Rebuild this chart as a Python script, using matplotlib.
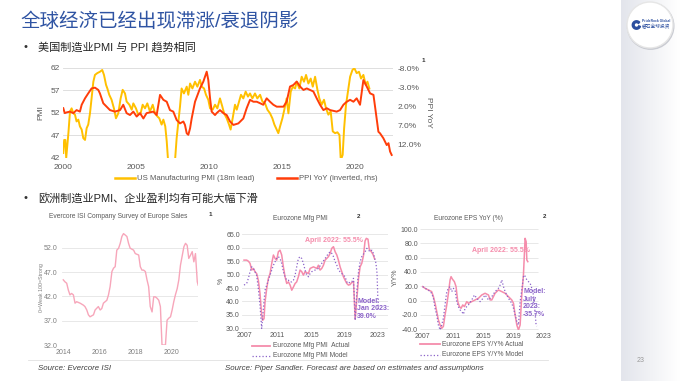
import matplotlib
matplotlib.use('Agg')
from matplotlib import pyplot as plt
from matplotlib.lines import Line2D
from matplotlib.patches import Circle, Wedge
import numpy as np

plt.rcParams['font.family'] = ['Liberation Sans', 'Noto Sans CJK SC', 'DejaVu Sans']

# ---------------- data ----------------
# US manufacturing PMI, 18m lead
pmi_years = [2000.0, 2000.06, 2000.14, 2000.2, 2000.28, 2000.35, 2000.46, 2000.57, 2000.69, 2000.8,
             2000.91, 2001.03, 2001.14, 2001.26, 2001.37, 2001.49, 2001.6, 2001.71, 2001.83, 2001.94,
             2002.06, 2002.17, 2002.33, 2002.51, 2002.67, 2002.79, 2002.93, 2003.02, 2003.15, 2003.31,
             2003.47, 2003.61, 2003.77, 2003.93, 2004.07, 2004.23, 2004.34, 2004.53, 2004.69, 2004.8,
             2004.98, 2005.14, 2005.3, 2005.44, 2005.6, 2005.76, 2005.94, 2006.13, 2006.29, 2006.45,
             2006.58, 2006.74, 2006.86, 2006.99, 2007.09, 2007.18, 2007.66, 2007.77, 2007.89, 2008.0,
             2008.11, 2008.27, 2008.46, 2008.57, 2008.69, 2008.85, 2009.03, 2009.19, 2009.37, 2009.49,
             2009.65, 2009.78, 2009.94, 2010.06, 2010.24, 2010.4, 2010.56, 2010.74, 2010.9, 2011.02,
             2011.2, 2011.36, 2011.47, 2011.61, 2011.77, 2011.89, 2012.05, 2012.18, 2012.34, 2012.5,
             2012.66, 2012.8, 2012.96, 2013.14, 2013.3, 2013.49, 2013.65, 2013.83, 2013.99, 2014.17,
             2014.33, 2014.47, 2014.63, 2014.74, 2014.86, 2015.02, 2015.15, 2015.31, 2015.43, 2015.59,
             2015.73, 2015.89, 2016.0, 2016.18, 2016.34, 2016.5, 2016.64, 2016.8, 2016.96, 2017.1,
             2017.26, 2017.42, 2017.55, 2017.71, 2017.87, 2018.01, 2018.17, 2018.33, 2018.47, 2018.63,
             2018.79, 2018.93, 2019.02, 2019.15, 2019.25, 2019.38, 2019.54, 2019.66, 2019.82, 2019.95,
             2020.11, 2020.27, 2020.41, 2020.57, 2020.73, 2020.85, 2020.98]
pmi_values = [43.1, 46.0, 46.0, 42.0, 45.0, 47.5, 52.3, 53.0, 51.9, 51.6,
              50.1, 50.5, 49.0, 48.3, 46.4, 46.0, 48.6, 49.4, 51.9, 55.2,
              58.9, 60.4, 60.8, 61.1, 61.5, 60.4, 58.2, 57.4, 56.0, 54.9,
              53.0, 50.8, 51.9, 55.2, 57.1, 56.3, 54.5, 53.8, 52.7, 54.1,
              53.0, 51.6, 51.9, 53.8, 53.0, 54.1, 52.3, 53.8, 51.9, 51.2,
              50.8, 49.4, 50.5, 49.0, 45.7, 41.5, 41.5, 46.4, 50.1, 53.4,
              57.4, 56.3, 57.8, 56.0, 58.5, 57.4, 58.9, 57.8, 59.3, 57.8,
              57.4, 56.0, 54.9, 53.0, 52.7, 53.8, 53.0, 55.2, 53.4, 51.9,
              50.8, 49.4, 48.3, 50.8, 53.8, 52.7, 54.5, 56.0, 55.2, 56.7,
              55.6, 56.3, 55.2, 56.3, 55.2, 56.0, 54.5, 54.1, 52.7, 51.9,
              50.8, 49.4, 48.3, 47.5, 49.0, 50.8, 52.7, 55.2, 51.9, 56.7,
              57.8, 57.4, 58.9, 57.4, 60.0, 58.9, 60.4, 58.5, 59.6, 57.8,
              60.0, 57.1, 55.2, 53.8, 54.9, 53.0, 51.6, 52.3, 47.9, 47.5,
              47.7, 47.1, 41.5, 42.7, 48.6, 53.8, 57.4, 60.0, 61.5, 61.9,
              60.8, 61.1, 59.6, 60.4, 58.2, 58.9, 57.4]

# PPI YoY (%), plotted on an inverted right axis
ppi_years = [2000.0, 2000.1, 2000.23, 2000.46, 2000.69, 2000.91, 2001.14, 2001.26, 2001.49, 2001.71,
             2001.94, 2002.17, 2002.4, 2002.51, 2002.74, 2002.97, 2003.2, 2003.54, 2003.89, 2004.11,
             2004.34, 2004.57, 2004.8, 2005.03, 2005.26, 2005.49, 2005.71, 2006.17, 2006.4, 2006.63,
             2006.86, 2007.09, 2007.31, 2007.54, 2007.77, 2008.0, 2008.23, 2008.34, 2008.46, 2008.57,
             2008.69, 2008.8, 2009.03, 2009.37, 2009.6, 2009.83, 2009.94, 2010.06, 2010.17, 2010.4,
             2010.51, 2010.74, 2010.97, 2011.2, 2011.43, 2011.66, 2012.0, 2012.34, 2012.57, 2012.8,
             2013.03, 2013.26, 2013.49, 2013.71, 2013.94, 2014.17, 2014.4, 2014.63, 2015.09, 2015.31,
             2015.54, 2015.77, 2016.0, 2016.23, 2016.46, 2016.69, 2016.91, 2017.14, 2017.37, 2017.6,
             2017.83, 2018.06, 2018.29, 2018.74, 2018.97, 2019.2, 2019.43, 2019.66, 2019.89, 2020.11,
             2020.34, 2020.57, 2020.8, 2021.03, 2021.26, 2021.37, 2021.6, 2021.71, 2021.94, 2022.17,
             2022.29, 2022.4, 2022.51]
ppi_values = [2.5, 3.8, 3.6, 3.4, 3.8, 3.0, 3.4, 1.6, -0.1, -1.4,
              -2.7, -2.9, -2.3, -1.4, 1.2, 2.1, 3.0, 3.4, 3.0, 1.6,
              3.8, 4.3, 3.4, 4.7, 3.8, 5.2, 3.8, 3.4, 4.3, -1.0,
              0.3, 0.8, 3.0, 3.4, 5.6, 6.5, 6.0, 6.9, 9.1, 9.5,
              7.8, 5.2, 0.8, -2.7, -4.5, -7.1, -4.9, -0.1, 3.4, 4.3,
              3.8, 3.0, 3.8, 4.3, 6.0, 6.9, 6.5, 5.2, 2.5, 0.3,
              0.8, 0.8, 1.2, 1.6, -0.1, 0.8, 1.6, 2.1, 2.1, 0.8,
              -3.2, -3.6, -4.5, -3.2, -2.3, -2.7, -2.3, -1.9, -0.1, 1.6,
              3.0, 2.5, 3.0, 3.4, 3.0, 1.6, 0.8, 0.3, 0.8, -0.1,
              1.6, -4.9, -3.2, -1.4, -1.0, 2.1, 8.7, 9.1, 10.4, 12.2,
              11.7, 13.9, 14.8]

pmi_ticks = [42, 47, 52, 57, 62]
ppi_ticks = [-8, -3, 2, 7, 12]
top_xticks = [2000, 2005, 2010, 2015, 2020]

# Evercore ISI company survey of Europe sales
ev_years = [2014.0, 2014.09, 2014.19, 2014.28, 2014.37, 2014.46, 2014.56, 2014.65, 2014.74, 2014.93,
            2015.11, 2015.2, 2015.3, 2015.39, 2015.48, 2015.67, 2015.76, 2015.94, 2016.04, 2016.13,
            2016.22, 2016.41, 2016.5, 2016.59, 2016.69, 2016.78, 2016.87, 2016.96, 2017.06, 2017.15,
            2017.24, 2017.33, 2017.43, 2017.52, 2017.61, 2017.7, 2017.89, 2017.98, 2018.17, 2018.26,
            2018.35, 2018.44, 2018.54, 2018.63, 2018.72, 2018.81, 2018.91, 2019.0, 2019.09, 2019.19,
            2019.28, 2019.37, 2019.46, 2019.56, 2019.65, 2019.74, 2019.83, 2019.93, 2020.02, 2020.11,
            2020.2, 2020.3, 2020.39, 2020.48, 2020.57, 2020.67, 2020.76, 2020.85, 2020.94, 2021.04,
            2021.13, 2021.22, 2021.31, 2021.41, 2021.46]
ev_values = [45.4, 45.0, 44.7, 43.3, 42.3, 42.6, 42.3, 40.6, 40.9, 40.6,
             40.2, 39.9, 39.2, 38.2, 37.8, 38.2, 39.2, 39.9, 39.2, 39.5,
             40.6, 41.2, 42.3, 44.0, 47.1, 47.8, 48.1, 51.5, 51.9, 52.9,
             54.3, 54.9, 54.6, 54.3, 52.9, 51.9, 51.5, 50.8, 50.5, 48.1,
             47.4, 47.4, 47.1, 45.4, 44.0, 39.9, 38.8, 41.9, 41.9, 41.6,
             41.2, 39.9, 32.0, 32.0, 32.0, 37.1, 37.5, 37.8, 39.2, 40.9,
             42.3, 43.6, 45.4, 48.4, 50.2, 52.2, 52.9, 52.5, 49.8, 50.5,
             51.2, 49.1, 50.8, 45.0, 44.3]
ev_ticks = [32, 37, 42, 47, 52]
ev_xticks = [2014, 2016, 2018, 2020]

# Eurozone manufacturing PMI: actual and model
ezpmi_years = [2007.0, 2007.32, 2007.52, 2007.72, 2007.92, 2008.12, 2008.31, 2008.51, 2008.71, 2008.91,
               2009.11, 2009.23, 2009.39, 2009.51, 2009.71, 2009.91, 2010.11, 2010.31, 2010.51, 2010.71,
               2010.9, 2011.1, 2011.3, 2011.5, 2011.7, 2011.9, 2012.1, 2012.3, 2012.5, 2012.7,
               2012.9, 2013.1, 2013.29, 2013.49, 2013.69, 2013.89, 2014.09, 2014.29, 2014.69, 2014.89,
               2015.29, 2015.69, 2015.88, 2016.08, 2016.28, 2016.48, 2016.68, 2017.08, 2017.28, 2017.48,
               2017.68, 2017.88, 2018.08, 2018.27, 2018.47, 2018.67, 2018.87, 2019.07, 2019.27, 2019.47,
               2019.67, 2019.87, 2020.07, 2020.27, 2020.47, 2020.67, 2020.86, 2021.06, 2021.26, 2021.45,
               2021.6, 2021.8, 2021.95, 2022.2, 2022.4, 2022.6]
ezpmi_actual = [55.4, 55.4, 55.0, 54.2, 51.7, 52.3, 51.1, 50.4, 47.9, 43.0,
                34.9, 33.0, 33.6, 39.8, 44.8, 48.6, 50.4, 54.2, 57.3, 56.0,
                55.4, 58.5, 59.1, 57.3, 52.9, 49.2, 46.7, 47.3, 46.1, 44.2,
                45.4, 46.7, 47.3, 49.2, 51.7, 51.1, 49.8, 51.1, 50.4, 52.3,
                52.9, 52.3, 53.5, 51.7, 52.3, 53.5, 55.4, 56.7, 57.9, 59.8,
                60.4, 58.5, 57.3, 55.4, 52.9, 51.1, 49.2, 47.9, 46.7, 46.1,
                46.3, 47.1, 47.5, 33.4, 41.0, 48.6, 52.9, 54.2, 57.0, 62.5,
                63.5, 63.2, 59.5, 58.5, 57.5, 55.8]
ezmodel_years = [2007.0, 2007.32, 2007.52, 2007.72, 2007.92, 2008.12, 2008.31, 2008.51, 2008.71, 2008.91,
                 2009.11, 2009.31, 2009.51, 2009.71, 2009.91, 2010.11, 2010.31, 2010.51, 2010.71, 2010.9,
                 2011.1, 2011.3, 2011.5, 2011.7, 2011.9, 2012.1, 2012.3, 2012.5, 2012.7, 2012.9,
                 2013.1, 2013.29, 2013.49, 2013.69, 2013.89, 2014.09, 2014.29, 2014.49, 2014.69, 2014.89,
                 2015.09, 2015.49, 2015.88, 2016.28, 2016.68, 2017.08, 2017.28, 2017.48, 2017.68, 2017.88,
                 2018.08, 2018.27, 2018.67, 2019.07, 2019.27, 2019.47, 2019.67, 2019.87, 2020.07, 2020.27,
                 2020.47, 2020.67, 2020.86, 2021.06, 2021.46, 2021.66, 2021.86, 2022.06, 2022.26, 2022.45,
                 2022.65, 2022.75, 2022.88, 2023.02]
ezmodel_values = [46.1, 46.7, 48.6, 51.1, 52.9, 52.3, 51.1, 49.8, 44.8, 38.6,
                  29.9, 37.4, 44.2, 46.1, 47.9, 49.8, 51.7, 53.5, 54.8, 56.0,
                  56.7, 56.0, 54.2, 51.1, 49.2, 47.9, 47.9, 47.3, 47.3, 47.9,
                  49.8, 52.9, 56.0, 56.7, 56.0, 54.2, 51.7, 49.8, 49.2, 50.4,
                  51.1, 51.7, 52.3, 54.2, 56.0, 57.9, 58.5, 57.9, 56.7, 54.8,
                  53.5, 51.7, 50.4, 49.2, 47.3, 46.7, 47.3, 47.3, 48.6, 33.0,
                  43.6, 51.1, 54.8, 56.7, 58.5, 59.8, 59.1, 58.5, 59.1, 57.9,
                  55.4, 54.3, 50.5, 37.0]
ezpmi_ticks = [30, 35, 40, 45, 50, 55, 60, 65]
bottom_xticks = [2007, 2011, 2015, 2019, 2023]

# Eurozone EPS YoY (%): actual and model
eps_years = [2007.0, 2007.31, 2007.75, 2008.19, 2008.42, 2008.64, 2008.86, 2009.08, 2009.3, 2009.52,
             2009.74, 2009.96, 2010.19, 2010.41, 2010.63, 2010.76, 2010.94, 2011.2, 2011.42, 2011.65,
             2011.87, 2012.09, 2012.31, 2012.53, 2012.84, 2013.06, 2013.5, 2013.95, 2014.39, 2014.83,
             2015.27, 2015.72, 2015.94, 2016.16, 2016.6, 2017.04, 2017.49, 2017.93, 2018.37, 2018.81,
             2019.04, 2019.26, 2019.48, 2019.7, 2019.92, 2020.14, 2020.36, 2020.5, 2020.58, 2020.72,
             2020.81, 2020.94]
eps_actual = [19.6, 17.2, 14.9, 12.6, 5.6, -3.7, -15.3, -27.0, -34.0, -38.6,
              -36.0, -20.0, -6.0, 10.3, 29.0, 33.5, 30.0, 26.5, 19.6, -1.4,
              -8.3, -10.7, -6.0, -8.3, -1.4, -3.7, -1.4, 1.0, 3.3, 7.9,
              10.3, 7.9, 1.0, 1.0, 10.3, 14.9, 12.6, 10.3, 5.6, 1.0,
              -3.7, -20.0, -34.0, -40.9, -34.0, 7.9, 35.8, 68.4, 87.0, 82.3,
              56.8, 54.4]
epsm_years = [2007.0, 2007.31, 2007.75, 2008.19, 2008.42, 2008.64, 2008.86, 2009.08, 2009.3, 2009.52,
              2009.74, 2009.96, 2010.19, 2010.41, 2010.63, 2010.85, 2011.07, 2011.29, 2011.51, 2011.73,
              2011.96, 2012.18, 2012.4, 2012.62, 2013.06, 2013.5, 2013.86, 2014.17, 2014.61, 2014.83,
              2015.27, 2015.72, 2016.16, 2016.6, 2017.04, 2017.27, 2017.49, 2017.71, 2017.93, 2018.37,
              2018.81, 2019.04, 2019.26, 2019.48, 2019.7, 2019.92, 2020.14, 2020.36, 2020.5, 2020.81,
              2021.25, 2021.47, 2021.69, 2021.82, 2022.04, 2022.13]
eps_model = [19.6, 17.2, 14.9, 10.3, 3.3, -10.7, -20.0, -34.0, -40.9, -34.0,
             -24.6, -6.0, 12.6, 17.2, 19.6, 12.6, 17.2, 14.9, -1.4, -8.3,
             -13.0, -15.3, -19.0, -10.7, -6.0, 1.0, 7.9, 3.3, -1.4, 1.0,
             7.9, 1.0, 5.6, 12.6, 17.2, 21.8, 28.9, 19.6, 12.6, 3.3,
             -3.7, -10.7, -20.0, -29.3, -34.0, -1.4, 14.9, 33.5, 35.8, 28.9,
             24.2, 17.2, 7.9, -6.0, -34.0, -35.7]
eps_ticks = [-40, -20, 0, 20, 40, 60, 80, 100]

# ---------------- layout helpers (pixel positions on the 680x381 slide) ----------------
W, H = 680, 381


def box(x0, y0, x1, y1):
    return [x0 / W, 1 - y1 / H, (x1 - x0) / W, (y1 - y0) / H]


def ftext(x, y, s, **kw):
    fig.text(x / W, 1 - y / H, s, **kw)


def fline(x0, x1, y, **kw):
    fig.add_artist(Line2D([x0 / W, x1 / W], [1 - y / H, 1 - y / H],
                          transform=fig.transFigure, **kw))


def style(ax, size, pad_x, pad_y, color='#595959'):
    for s in ax.spines.values():
        s.set_visible(False)
    ax.tick_params(length=0, labelsize=size, colors=color)
    ax.tick_params(axis='x', pad=pad_x)
    ax.tick_params(axis='y', pad=pad_y)


GRID = '#D9D9D9'
YELLOW = '#FFC000'
RED = '#FF3D0A'
PINK = '#F58CAB'
PINK_LIGHT = '#F7A6BA'
PURPLE = '#8B63C9'
GREY_TXT = '#595959'

fig = plt.figure(figsize=(6.8, 3.81), dpi=100)
fig.patch.set_facecolor('white')

# right-hand grey band
band = fig.add_axes(box(621, 0, 680, 381))
grad = np.linspace(0, 1, 100)[None, :]
band.imshow(grad, aspect='auto', cmap=matplotlib.colors.LinearSegmentedColormap.from_list(
    'b', ['#E3E5EC', '#F1F2F5', '#FFFFFF']), extent=[0, 1, 0, 1])
band.axis('off')

# logo
logo = fig.add_axes(box(625, 0, 675, 50))
logo.set_xlim(0, 50)
logo.set_ylim(0, 50)
logo.axis('off')
logo.add_patch(Circle((25.6, 24.0), 23.2, color='#C9CBD2', zorder=1))
logo.add_patch(Circle((25, 25), 23, facecolor='white', edgecolor='#E6E6E6', zorder=2))
logo.add_patch(Wedge((11.5, 25), 4.2, 40, 340, width=1.8, color='#2B4E9F', zorder=3))
logo.text(16.5, 27.5, 'PrideRock Global', fontsize=2.4, color='#2B4E9F', fontweight='bold', zorder=3)
logo.text(16.5, 21.5, '磐石全球投资', fontsize=3.4, color='#2B4E9F', zorder=3)

# headings
ftext(20, 22, '全球经济已经出现滞涨/衰退阴影', fontsize=14, color='#2F54A3', va='center')
ftext(23, 47, '•', fontsize=8, color='#333333', va='center')
ftext(38, 47, '美国制造业PMI 与 PPI 趋势相同', fontsize=8, color='#262626', va='center')
ftext(23, 198, '•', fontsize=8, color='#333333', va='center')
ftext(38, 198, '欧洲制造业PMI、企业盈利均有可能大幅下滑', fontsize=8, color='#262626', va='center')

# ---------------- top chart: US PMI vs PPI ----------------
ax1 = fig.add_axes(box(63, 67.7, 393, 158))
ax1.plot(pmi_years, pmi_values, color=YELLOW, lw=1.4, zorder=3)
ax1.set_xlim(1999.98, 2022.6)
ax1.set_ylim(42, 62)
ax1.set_yticks(pmi_ticks)
ax1.set_xticks(top_xticks)
ax1.grid(axis='y', color=GRID, lw=0.6)
ax1.set_axisbelow(True)
style(ax1, 6, 4, 2)
ax1.set_ylabel('PMI', fontsize=6, color=GREY_TXT, labelpad=5)

ax1b = ax1.twinx()
ax1b.plot(ppi_years, ppi_values, color=RED, lw=1.4)
ax1b.set_ylim(15.6, -8.15)
ax1b.set_yticks(ppi_ticks)
ax1b.set_yticklabels([f'{t:.1f}%' for t in ppi_ticks])
style(ax1b, 6, 4, 3)
ax1b.set_ylabel('PPI YoY', fontsize=6, color=GREY_TXT, rotation=270, labelpad=8)
ftext(422, 60, '1', fontsize=4.5, fontweight='bold', color='#333333', va='center')

fline(115, 135, 178, color=YELLOW, lw=1.8)
ftext(137, 178, 'US Manufacturing PMI (18m lead)', fontsize=5.6, color=GREY_TXT, va='center')
fline(277, 297, 178, color=RED, lw=1.8)
ftext(299, 178, 'PPI YoY (inverted, rhs)', fontsize=5.6, color=GREY_TXT, va='center')

# ---------------- bottom left: Evercore ISI ----------------
ax2 = fig.add_axes(box(62, 230.7, 198, 345))
ax2.plot(ev_years, ev_values, color=PINK_LIGHT, lw=1.0)
ax2.set_xlim(2013.93, 2021.45)
ax2.set_ylim(32, 55.5)
ax2.set_yticks(ev_ticks)
ax2.set_yticklabels([f'{t:.1f}' for t in ev_ticks])
ax2.set_xticks(ev_xticks)
ax2.grid(axis='y', color='#E4E4E4', lw=0.6)
ax2.set_axisbelow(True)
style(ax2, 5, 3, 3.5, '#7F7F7F')
ftext(41, 288, '0=Weak 100=Strong', fontsize=3.8, color='#7F7F7F', rotation=90, ha='center', va='center')
ftext(118, 217, 'Evercore ISI Company Survey of Europe Sales', fontsize=4.8, color=GREY_TXT,
      ha='center', va='center')
ftext(209, 215, '1', fontsize=4.5, fontweight='bold', color='#333333', va='center')

# ---------------- bottom middle: Eurozone Mfg PMI ----------------
ax3 = fig.add_axes(box(242, 233.8, 388, 329.4))
ax3.plot(ezpmi_years, ezpmi_actual, color=PINK, lw=1.1, zorder=3)
ax3.plot(ezmodel_years, ezmodel_values, color=PURPLE, lw=0.9, ls=':', zorder=4)
ax3.set_xlim(2006.76, 2024.19)
ax3.set_ylim(29.6, 65.2)
ax3.set_yticks(ezpmi_ticks)
ax3.set_yticklabels([f'{t:.1f}' for t in ezpmi_ticks])
ax3.set_xticks(bottom_xticks)
ax3.grid(axis='y', color='#E4E4E4', lw=0.6)
ax3.set_axisbelow(True)
style(ax3, 5, 2, 1.5)
ftext(221, 281, '%', fontsize=5, color=GREY_TXT, rotation=90, ha='center', va='center')
ftext(300, 219, 'Eurozone Mfg PMI', fontsize=4.8, color=GREY_TXT, ha='center', va='center')
ftext(357, 216, '2', fontsize=4.5, fontweight='bold', color='#333333', va='center')
ftext(305, 240, 'April 2022: 55.5%', fontsize=5, color=PINK, fontweight='bold', va='center')
ftext(357, 309, 'Model:\nJan 2023:\n39.0%', fontsize=5, color=PURPLE, fontweight='bold',
      va='center', linespacing=1.15)
fline(252, 270, 345.7, color=PINK, lw=1.3)
ftext(273, 345.7, 'Eurozone Mfg PMI  Actual', fontsize=4.8, color=GREY_TXT, va='center')
fline(252, 270, 355.7, color=PURPLE, lw=0.9, ls=':')
ftext(273, 355.7, 'Eurozone Mfg PMI Model', fontsize=4.8, color=GREY_TXT, va='center')

# ---------------- bottom right: Eurozone EPS YoY ----------------
ax4 = fig.add_axes(box(420, 228, 545, 330.3))
ax4.plot(eps_years, eps_actual, color=PINK, lw=1.1, zorder=3)
ax4.plot(epsm_years, eps_model, color=PURPLE, lw=0.9, ls=':', zorder=4)
ax4.set_xlim(2006.64, 2023.22)
ax4.set_ylim(-41.4, 101.4)
ax4.set_yticks(eps_ticks)
ax4.set_yticklabels([f'{t:.1f}' for t in eps_ticks])
ax4.set_xticks(bottom_xticks)
ax4.hlines(eps_ticks, 2006.64, 2022.3, color='#E4E4E4', lw=0.6, zorder=0)
style(ax4, 5, 2, 1.5)
ftext(395, 277, 'Y/Y%', fontsize=5, color=GREY_TXT, rotation=90, ha='center', va='center')
ftext(468, 218, 'Eurozone EPS YoY (%)', fontsize=4.8, color=GREY_TXT, ha='center', va='center')
ftext(543, 216, '2', fontsize=4.5, fontweight='bold', color='#333333', va='center')
ftext(472, 250, 'April 2022: 55.5%', fontsize=5, color=PINK, fontweight='bold', va='center')
ftext(523, 303, 'Model:\nJuly\n2023:\n-35.7%', fontsize=5, color=PURPLE, fontweight='bold',
      va='center', linespacing=1.1)
fline(420, 440, 344.3, color=PINK, lw=1.3)
ftext(442, 344.3, 'Eurozone EPS Y/Y% Actual', fontsize=4.8, color=GREY_TXT, va='center')
fline(420, 440, 355, color=PURPLE, lw=0.9, ls=':')
ftext(442, 355, 'Eurozone EPS Y/Y% Model', fontsize=4.8, color=GREY_TXT, va='center')

# ---------------- footer ----------------
fline(28, 548, 360, color='#E0E0E0', lw=0.6)
ftext(38, 368, 'Source: Evercore ISI', fontsize=5.7, style='italic', color='#404040', va='center')
ftext(225, 368, 'Source: Piper Sandler. Forecast are based on estimates and assumptions',
      fontsize=5.7, style='italic', color='#404040', va='center')
ftext(637, 360, '23', fontsize=5, color='#9A9A9A', va='center')

fig.savefig('out.png', dpi=100)
